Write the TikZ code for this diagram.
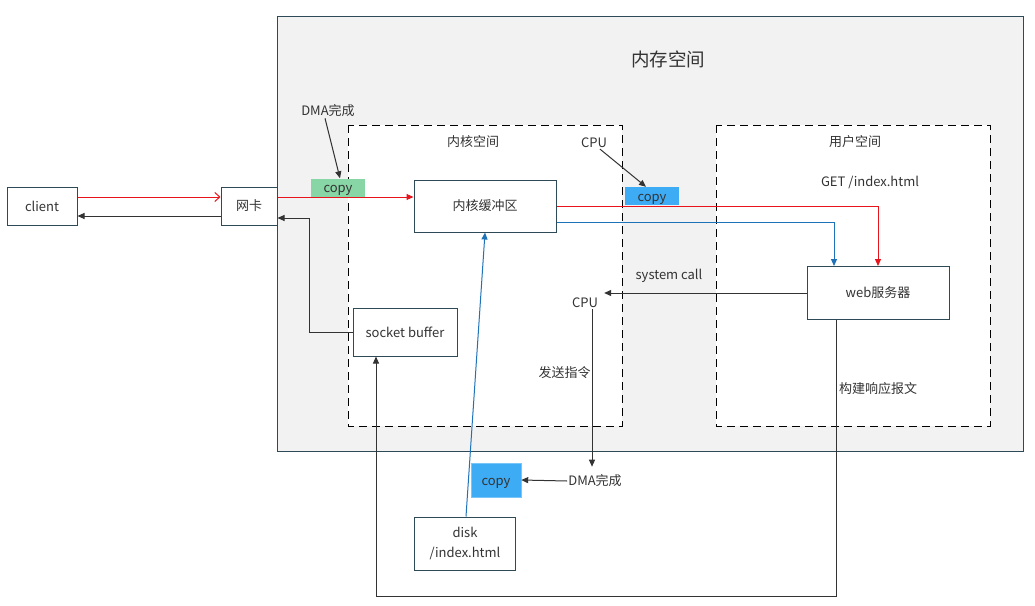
\documentclass[tikz,border=0pt]{standalone}
\usepackage{fontspec}
\setmainfont{Noto Sans CJK SC}
\usepackage{xcolor}
\usepackage{tikz}
\usetikzlibrary{arrows.meta, positioning, calc}
\definecolor{boxline}{HTML}{2E4A56}
\definecolor{memfill}{HTML}{F2F2F2}
\definecolor{inkgray}{HTML}{333333}
\definecolor{redline}{HTML}{E8141B}
\definecolor{blueline}{HTML}{1F72B8}
\definecolor{copygreen}{HTML}{88D5A6}
\definecolor{copyblue}{HTML}{3EACF5}
\tikzset{
  box/.style={draw=boxline, line width=1pt, fill=white, inner sep=0pt, align=center, text=inkgray},
  copybox/.style={inner sep=0pt, minimum width=54pt, minimum height=18pt, text=inkgray, text height=10.5pt, text depth=0pt},
  txt/.style={inner sep=1pt, text=inkgray},
  zone/.style={draw=black, line width=1pt, dash pattern=on 8pt off 5pt, fill=white},
  link/.style={draw=inkgray, line width=1pt, -{Triangle[length=7pt, width=6pt]}},
}

\begin{document}
\begin{tikzpicture}[x=1pt, y=-1pt, font=\fontsize{13}{16}\selectfont]
        \useasboundingbox (0,0) rectangle (1035,605);

        % Espace mémoire
        \draw[draw=boxline, line width=1pt, fill=memfill] (277,16) rectangle (1023,451);
        \node[txt, font=\fontsize{18.5}{22}\selectfont] (mem) at (668,59) {内存空间};

        % Zones noyau / utilisateur
        \draw[zone] (348,125) rectangle (622,426);
        \draw[zone] (716,125) rectangle (990,426);
        \node[txt] (kspace) at (473,142) {内核空间};
        \node[txt] (uspace) at (855,142) {用户空间};
        \node[txt] (get) at (870,182) {GET /index.html};

        % Boîtes
        \node[box, minimum width=70pt, minimum height=38pt] (client) at (42,206) {client};
        \node[box, minimum width=56pt, minimum height=38pt] (nic) at (249,206) {网卡};
        \node[box, minimum width=142pt, minimum height=52pt] (kbuf) at (485,206) {内核缓冲区};
        \node[box, minimum width=142pt, minimum height=53pt] (web) at (878,293) {web服务器};
        \node[box, minimum width=104pt, minimum height=48pt] (sock) at (405,332) {socket buffer};
        \node[box, minimum width=101pt, minimum height=53pt, font=\fontsize{13}{20}\selectfont] (disk) at (465,543.5) {disk\\/index.html};

        % Copies
        \node[copybox, fill=copygreen] (copy1) at (338,187.5) {copy};
        \node[copybox, fill=copyblue] (copy2) at (652,196) {copy};
        \node[copybox, fill=copyblue, draw=copyblue!70!white, minimum width=50pt, minimum height=34pt] (copy3) at (496,480) {copy};

        % Etiquettes
        \node[txt] (dma1) at (328,111) {DMA完成};
        \node[txt] (cpu1) at (594,143) {CPU};
        \node[txt] (cpu2) at (585,303) {CPU};
        \node[txt] (syscall) at (669,276) {system call};
        \node[txt] (dma2) at (595,481) {DMA完成};
        \node[txt] (build) at (878,389) {构建响应报文};

        % Requête
        \draw[redline, line width=1pt, -{Straight Barb[length=5pt, width=9pt]}] ([yshift=9pt]client.east) -- ([yshift=9pt]nic.west);
        \draw[link, draw=redline, redline] ([yshift=9pt]nic.east) -- ([yshift=9pt]kbuf.west);
        \draw[link, draw=redline, redline] (kbuf.east) -| (web.north);
        \draw[link, draw=blueline, blueline] ([yshift=-16pt]kbuf.east) -| ([xshift=-44pt]web.north);

        % Réponse
        \draw[link] (web.west) -- ([xshift=5pt]web.west -| cpu2.east);
        \draw[link] ([xshift=7pt]cpu2.south) -- ([xshift=7pt, yshift=7pt]cpu2.south |- dma2.north) node[txt, pos=0.4, left] (cmd) {发送指令};
        \draw[link] (dma2.west) -- (copy3.east);
        \draw[link, draw=blueline, blueline] ([xshift=1pt]disk.north) -- (kbuf.south);
        \draw[link] ([xshift=-42pt]web.south) -- ++(0,276) -| ([xshift=-29pt]sock.south);
        \draw[link] (sock.west) -- ++(-43,0) |- ([yshift=-12pt]nic.east);
        \draw[link] ([yshift=-10pt]nic.west) -- ([yshift=-10pt]client.east);

        % DMA / CPU vers copy
        \draw[link] ([xshift=-3pt]dma1.south) -- ([xshift=2pt]copy1.north);
        \draw[link] ([xshift=6pt]cpu1.south) -- ([xshift=-6pt]copy2.north);
    \end{tikzpicture}
\end{document}
